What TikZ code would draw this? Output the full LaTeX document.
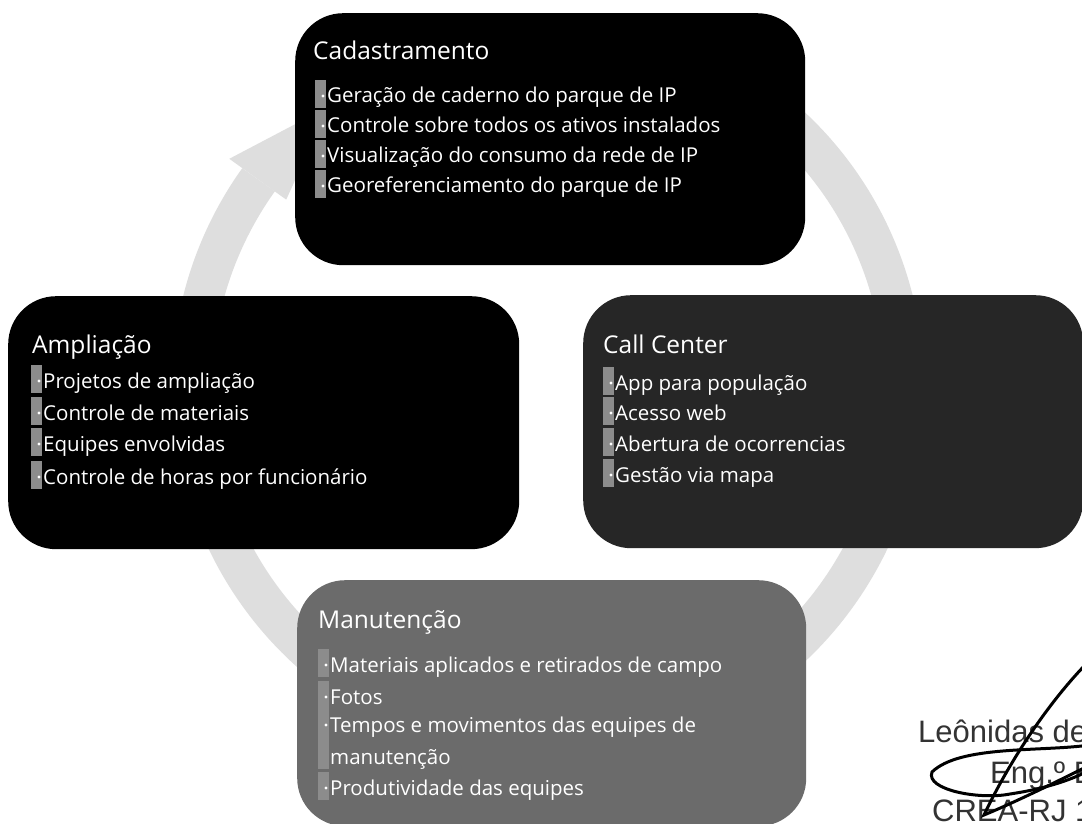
\documentclass[tikz,border=0pt]{standalone}
\usepackage{fontspec}
\setmainfont{Open Sans}
\newfontfamily\stampfont{Liberation Sans}
\definecolor{bandcol}{gray}{0.87}
\definecolor{stripecol}{gray}{0.55}
\tikzset{
  band/.style={draw=bandcol, line width=40pt},
  cardbox/.style={rounded corners=48pt, inner sep=0pt, anchor=north west},
  ttl/.style={anchor=base west, inner sep=0pt, text=white, font=\fontsize{24.5}{28}\selectfont},
  item/.style={anchor=base west, inner sep=0pt, text=white, font=\fontsize{20.5}{24}\selectfont},
  stamp/.style={anchor=base west, inner sep=0pt, text=black!80, font=\stampfont\fontsize{31}{36}\selectfont},
  scrawl/.style={draw=black, line width=3pt, line cap=round}
}
\newcommand\bitem[5]{% name, stripe x, baseline y, text, stripe extra depth
  \fill[stripecol] (#2,#3-23) rectangle (#2+11,#3+5+#5);
  \fill[white] (#2+8,#3-7) circle (1.6);
  \node[item] (#1) at (#2+12,#3) {#4};
}
\begin{document}
\begin{tikzpicture}[x=1pt,y=-1pt]
\useasboundingbox (0,0) rectangle (1082,824);
\clip (0,0) rectangle (1082,824);
\fill[white] (0,0) rectangle (1082,824);
% circular arrow in the background
\coordinate (ctr) at (548,387);
\draw[band] (ctr) ++(-60:356) arc[start angle=-60, end angle=215.6, radius=356];
\fill[bandcol] (229.3,158.8) -- (328.8,106.5) -- (286.2,199.6) -- cycle;
% boxes
\node[cardbox, fill=black, minimum width=510pt, minimum height=252pt] (cad) at (295,13) {};
\node[cardbox, fill=black, minimum width=511pt, minimum height=253pt] (amp) at (8,296) {};
\node[cardbox, fill=black!85, minimum width=500pt, minimum height=253pt] (call) at (583,295) {};
\node[cardbox, fill=black!58, minimum width=509pt, minimum height=246pt] (man) at (297,580) {};
% Cadastramento
\node[ttl] (cadT) at (313,60) {Cadastramento};
\bitem{cad1}{315}{103}{Geração de caderno do parque de IP}{0}
\bitem{cad2}{315}{133}{Controle sobre todos os ativos instalados}{0}
\bitem{cad3}{315}{163}{Visualização do consumo da rede de IP}{0}
\bitem{cad4}{315}{193}{Georeferenciamento do parque de IP}{0}
% Ampliação
\node[ttl] (ampT) at (32,353) {Ampliação};
\bitem{amp1}{31}{388}{Projetos de ampliação}{0}
\bitem{amp2}{31}{420}{Controle de materiais}{0}
\bitem{amp3}{31}{451}{Equipes envolvidas}{0}
\bitem{amp4}{31}{484}{Controle de horas por funcionário}{0}
% Call Center
\node[ttl] (callT) at (603,353) {Call Center};
\bitem{call1}{603}{390}{App para população}{0}
\bitem{call2}{603}{420}{Acesso web}{0}
\bitem{call3}{603}{451}{Abertura de ocorrencias}{0}
\bitem{call4}{603}{482}{Gestão via mapa}{0}
% Manutenção
\node[ttl] (manT) at (318,628) {Manutenção};
\bitem{man1}{318}{672}{Materiais aplicados e retirados de campo}{0}
\bitem{man2}{318}{704}{Fotos}{0}
\bitem{man3}{318}{732}{Tempos e movimentos das equipes de}{32}
\node[item] (man3b) at (330,764) {manutenção};
\bitem{man4}{318}{795}{Produtividade das equipes}{0}
% signature stamp
\node[stamp] (sig1) at (918,742) {Leônidas de};
\node[stamp] (sig2) at (990,783) {Eng.º El};
\node[stamp] (sig3) at (932,821) {CREA-RJ 19};
\draw[scrawl] (1090,660) .. controls (1050,700) and (1010,760) .. (984,815)
  .. controls (1020,800) and (1060,780) .. (1090,765);
\draw[scrawl] (1090,745) .. controls (1040,752) and (960,745) .. (932,772)
  .. controls (925,790) and (980,800) .. (1010,794)
  .. controls (1050,788) and (1075,778) .. (1090,770);
\end{tikzpicture}
\end{document}
